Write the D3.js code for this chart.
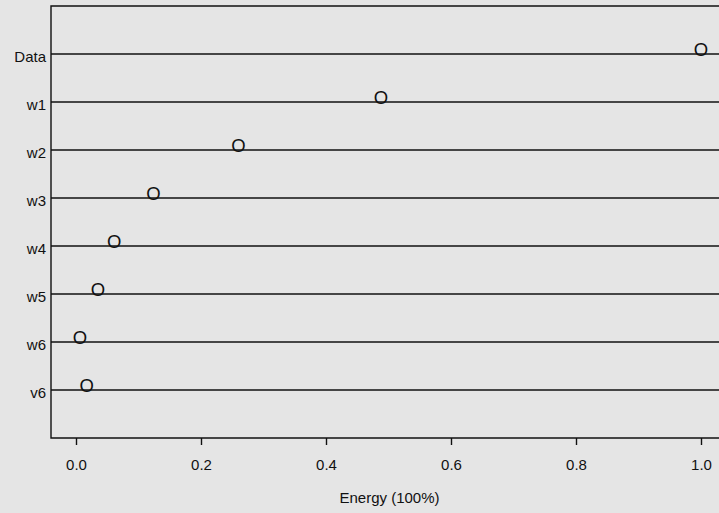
<!DOCTYPE html>
<html>
<head>
<meta charset="utf-8">
<script src="https://cdn.jsdelivr.net/npm/d3@7"></script>
<style>
  html, body { margin: 0; padding: 0; background: #e5e5e5; }
  svg { display: block; }
  text { font-family: "Liberation Sans", Arial, sans-serif; fill: #111; }
</style>
</head>
<body>
<svg id="chart" width="719" height="513"></svg>
<script>
const categories = ["Data", "w1", "w2", "w3", "w4", "w5", "w6", "v6"];
const energy = [1.0, 0.488, 0.26, 0.124, 0.061, 0.035, 0.0065, 0.017];
const xTicks = [0.0, 0.2, 0.4, 0.6, 0.8, 1.0];
const xTitle = "Energy (100%)";

const W = 719, H = 513;
const svg = d3.select("#chart");
svg.append("rect").attr("width", W).attr("height", H).attr("fill", "#e5e5e5");

const x = d3.scaleLinear().domain([0, 1]).range([76, 701]);
const y = d3.scaleLinear().domain([-1, categories.length]).range([6, 438]);

const boxLeft = 51, boxRight = 740, boxTop = y(-1), boxBottom = y(categories.length);

// frame
svg.append("path")
  .attr("d", `M${boxRight},${boxTop}H${boxLeft}V${boxBottom}H${boxRight}`)
  .attr("fill", "none").attr("stroke", "#111").attr("stroke-width", 1.4);

// category lines
svg.selectAll("line.cat").data(categories).join("line")
  .attr("class", "cat")
  .attr("x1", boxLeft).attr("x2", boxRight)
  .attr("y1", (d, i) => y(i)).attr("y2", (d, i) => y(i))
  .attr("stroke", "#111").attr("stroke-width", 1.4);

// category labels
svg.selectAll("text.cat").data(categories).join("text")
  .attr("class", "cat")
  .attr("x", 46).attr("y", (d, i) => y(i) + 7.5)
  .attr("text-anchor", "end")
  .style("font-size", "15px")
  .text(d => d);

// points as "O" glyphs
svg.selectAll("text.pt").data(energy).join("text")
  .attr("class", "pt")
  .attr("x", d => x(d)).attr("y", (d, i) => y(i) + 1.5)
  .attr("text-anchor", "middle")
  .style("font-size", "18.5px")
  .text("O");

// x axis
const axis = d3.axisBottom(x).tickValues(xTicks).tickFormat(d3.format(".1f")).tickSize(7).tickPadding(14);
const gx = svg.append("g").attr("transform", `translate(0,${boxBottom})`).call(axis);
gx.select(".domain").remove();
gx.selectAll(".tick line").attr("stroke", "#111").attr("stroke-width", 1.4);
gx.selectAll(".tick text").style("font-size", "15px").style("font-family", "Liberation Sans, Arial, sans-serif").attr("fill", "#111");

svg.append("text")
  .attr("x", x(0.5) + 1).attr("y", 503)
  .attr("text-anchor", "middle")
  .style("font-size", "15px")
  .text(xTitle);
</script>
</body>
</html>
